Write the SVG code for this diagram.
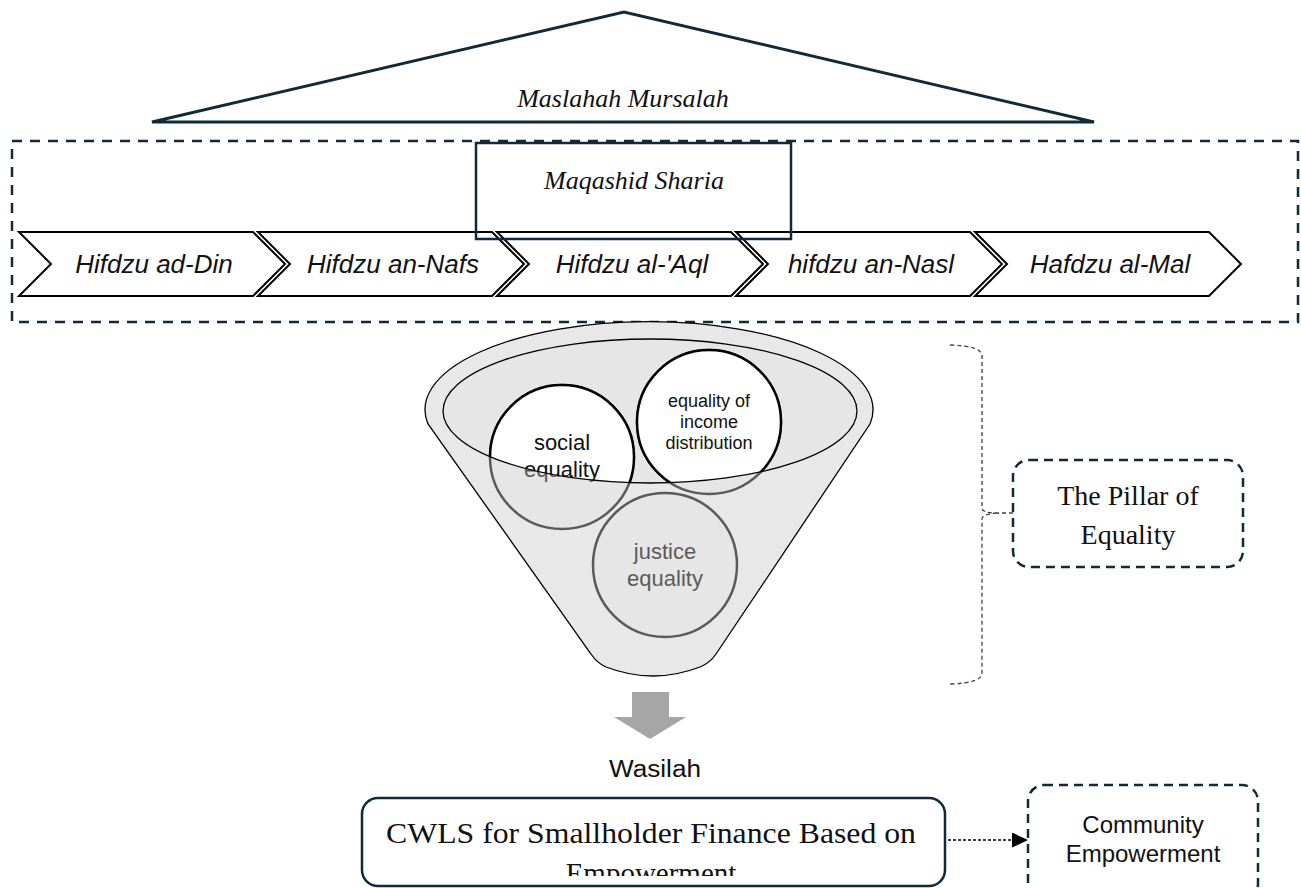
<svg xmlns="http://www.w3.org/2000/svg" width="1301" height="888" viewBox="0 0 1301 888">
<style>
.navy{stroke:#102a3a;fill:none}
.serif{font-family:"Liberation Serif",serif;fill:#111}
.sans{font-family:"Liberation Sans",Arial,sans-serif;fill:#111}
.chev{fill:#fff;stroke:#000;stroke-width:2}
.chevtxt{font-family:"Liberation Sans",Arial,sans-serif;font-style:italic;font-size:26px;fill:#111;text-anchor:middle}
</style>
<defs>
<clipPath id="inner"><ellipse cx="650" cy="411" rx="207" ry="72"/></clipPath>
<clipPath id="cwlsclip"><rect x="362" y="798" width="583" height="78"/></clipPath>
<marker id="arr" markerWidth="16" markerHeight="15" refX="16" refY="7.5" orient="auto" markerUnits="userSpaceOnUse"><path d="M0,0 L16,7.5 L0,15 Z" fill="#000"/></marker>
</defs>

<g id="maslahah">
<polygon points="152,122 624,12 1094,122" class="navy" stroke-width="3" stroke-linejoin="miter"/>
<text x="623" y="107" class="serif" font-style="italic" font-size="26" text-anchor="middle">Maslahah Mursalah</text>
</g>

<g id="maqashid-frame">
<rect x="12" y="141" width="1286" height="181" class="navy" stroke-width="2.5" stroke-dasharray="10 8"/>
</g>

<g id="chevrons">
<g id="hifdzu-ad-din"><polygon class="chev" points="19,232 253,232 285,264 253,296 19,296 51,264"/><text class="chevtxt" x="154" y="273">Hifdzu ad-Din</text></g>
<g id="hifdzu-an-nafs"><polygon class="chev" points="258,232 492,232 524,264 492,296 258,296 290,264"/><text class="chevtxt" x="393" y="273">Hifdzu an-Nafs</text></g>
<g id="hifdzu-al-aql"><polygon class="chev" points="497,232 731,232 763,264 731,296 497,296 529,264"/><text class="chevtxt" x="632" y="273">Hifdzu al-'Aql</text></g>
<g id="hifdzu-an-nasl"><polygon class="chev" points="736,232 970,232 1002,264 970,296 736,296 768,264"/><text class="chevtxt" x="871" y="273">hifdzu an-Nasl</text></g>
<g id="hafdzu-al-mal"><polygon class="chev" points="975,232 1209,232 1241,264 1209,296 975,296 1007,264"/><text class="chevtxt" x="1110" y="273">Hafdzu al-Mal</text></g>
</g>

<g id="maqashid-sharia">
<rect x="476" y="143" width="315" height="96" class="navy" stroke-width="2.5"/>
<text x="634" y="189" class="serif" font-style="italic" font-size="26" text-anchor="middle">Maqashid Sharia</text>
</g>

<g id="funnel">
<path d="M428,424 A224,88 0 1 1 870,424 L716,654 Q710,663 700,667 Q653,685 606,667 Q597,663 591,654 Z" fill="#e8e8e8" stroke="#000" stroke-width="1.3"/>
<ellipse cx="650" cy="411" rx="207" ry="72" fill="#e6e6e6" stroke="none"/>
<g fill="#e6e6e6" stroke="#5a5a5a" stroke-width="2.5">
<circle cx="562" cy="457" r="72"/>
<circle cx="709" cy="422" r="72"/>
<circle cx="665" cy="565" r="72"/>
</g>
<g class="sans" style="fill:#5a5a5a" font-size="22" text-anchor="middle">
<text x="562" y="450">social</text>
<text x="562" y="477">equality</text>
<text x="665" y="559">justice</text>
<text x="665" y="586">equality</text>
</g>
<g clip-path="url(#inner)">
<circle cx="562" cy="457" r="72" fill="#fff" stroke="#000" stroke-width="2.5"/>
<circle cx="709" cy="422" r="72" fill="#fff" stroke="#000" stroke-width="2.5"/>
<text x="562" y="450" class="sans" font-size="22" text-anchor="middle">social</text>
<text x="562" y="477" class="sans" font-size="22" text-anchor="middle">equality</text>
<text x="709" y="407" class="sans" font-size="18" text-anchor="middle">equality of</text>
<text x="709" y="428" class="sans" font-size="18" text-anchor="middle">income</text>
<text x="709" y="449" class="sans" font-size="18" text-anchor="middle">distribution</text>
</g>
<ellipse cx="650" cy="411" rx="207" ry="72" fill="none" stroke="#000" stroke-width="1.3"/>
</g>

<g id="pillar-of-equality">
<rect x="1013" y="460" width="230" height="107" rx="16" class="navy" stroke-width="2.5" stroke-dasharray="9 6"/>
<text x="1128" y="505" class="serif" font-size="28" text-anchor="middle">The Pillar of</text>
<text x="1128" y="544" class="serif" font-size="28" text-anchor="middle">Equality</text>
</g>

<g id="wasilah">
<polygon points="632,692 669,692 669,717 686,717 650,739 614,717 632,717" fill="#a6a6a6"/>
<text x="655" y="777" class="sans" font-size="23" text-anchor="middle" textLength="92" lengthAdjust="spacingAndGlyphs">Wasilah</text>
</g>

<g id="cwls">
<rect x="362" y="798" width="583" height="88" rx="16" class="navy" stroke-width="2.5"/>
<g clip-path="url(#cwlsclip)">
<text x="651" y="843" class="serif" font-size="29" text-anchor="middle" textLength="530" lengthAdjust="spacingAndGlyphs">CWLS for Smallholder Finance Based on</text>
<text x="651" y="883" class="serif" font-size="29" text-anchor="middle">Empowerment</text>
</g>
</g>

<g id="community-empowerment">
<rect x="1028" y="785" width="230" height="115" rx="16" class="navy" stroke-width="2.5" stroke-dasharray="9 6"/>
<text x="1143" y="833" class="sans" font-size="24" text-anchor="middle">Community</text>
<text x="1143" y="862" class="sans" font-size="24" text-anchor="middle">Empowerment</text>
</g>

<g id="connectors">
<path d="M950,345 Q982,346 982,356 L982,508 Q982,513 997,513 L1013,513 M997,513 Q982,514 982,519 L982,673 Q982,683 950,684" fill="none" stroke="#404040" stroke-width="1.3" stroke-dasharray="4 3"/>
<line x1="948" y1="840" x2="1028" y2="840" stroke="#000" stroke-width="1.3" stroke-dasharray="3 2" marker-end="url(#arr)"/>
</g>
</svg>
